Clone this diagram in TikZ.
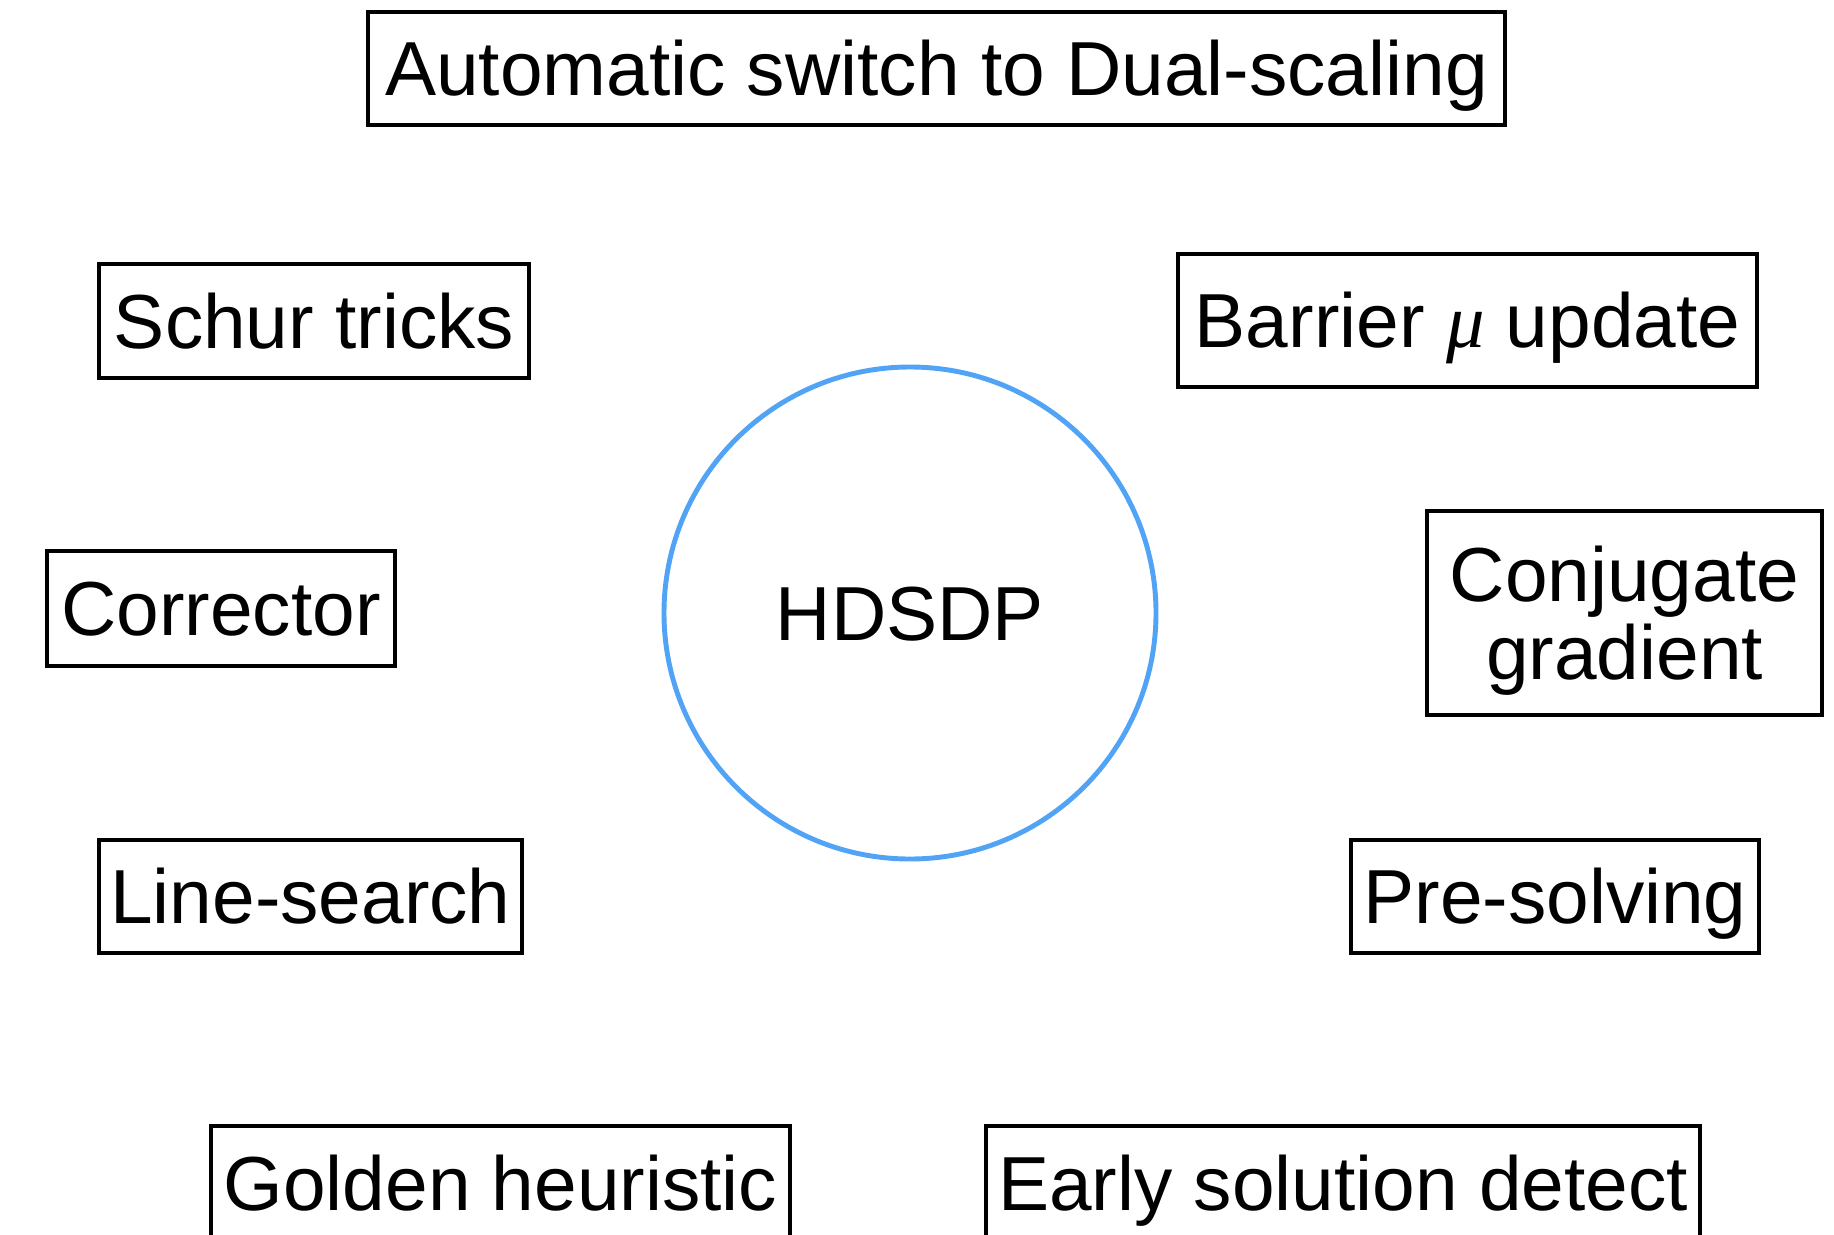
\documentclass[tikz,border=0pt]{standalone}
\usepackage{fontspec}
\setmainfont{Liberation Sans}
\newfontfamily\muserif{Liberation Serif}
\usepackage{tikz}
\usepackage{xcolor}
\definecolor{hdblue}{RGB}{80,163,245}

\begin{document}
\begin{tikzpicture}[scale=0.2]
\tikzstyle{every node}+=[inner sep=0pt, font=\fontsize{43.6}{44}\selectfont]
\tikzstyle{box}=[draw=black, line width=2.8pt, align=center, text height=31.2pt, text depth=0pt]
\useasboundingbox (0,0) rectangle (183.4,-123.4);
\node [circle, draw=hdblue, line width=2.8pt, minimum size=9.84cm, text height=31.2pt, text depth=0pt] (hdsdp) at (91,-61.3) {HDSDP};
\node [box, minimum width=22.74cm, minimum height=2.26cm] (dual) at (93.65,-6.85) {Automatic switch to Dual-scaling};
\node [box, minimum width=8.6cm, minimum height=2.28cm] (schur) at (31.4,-32.1) {Schur tricks};
\node [box, minimum width=11.58cm, minimum height=2.66cm] (barrier) at (146.75,-32.05) {Barrier {\muserif\itshape μ} update};
\node [box, minimum width=6.96cm, minimum height=2.3cm] (corr) at (22.1,-60.85) {Corrector};
\node [box, minimum width=7.9cm, minimum height=4.08cm, text height=75.2pt] (cg) at (162.45,-61.3) {Conjugate\\gradient};
\node [box, minimum width=8.46cm, minimum height=2.26cm] (lsearch) at (31.05,-89.65) {Line-search};
\node [box, minimum width=8.16cm, minimum height=2.26cm] (presolve) at (155.5,-89.65) {Pre-solving};
\node [box, minimum width=11.58cm, minimum height=2.28cm] (golden) at (50.05,-118.3) {Golden heuristic};
\node [box, minimum width=14.28cm, minimum height=2.28cm] (early) at (134.3,-118.3) {Early solution detect};
\end{tikzpicture}
\end{document}
